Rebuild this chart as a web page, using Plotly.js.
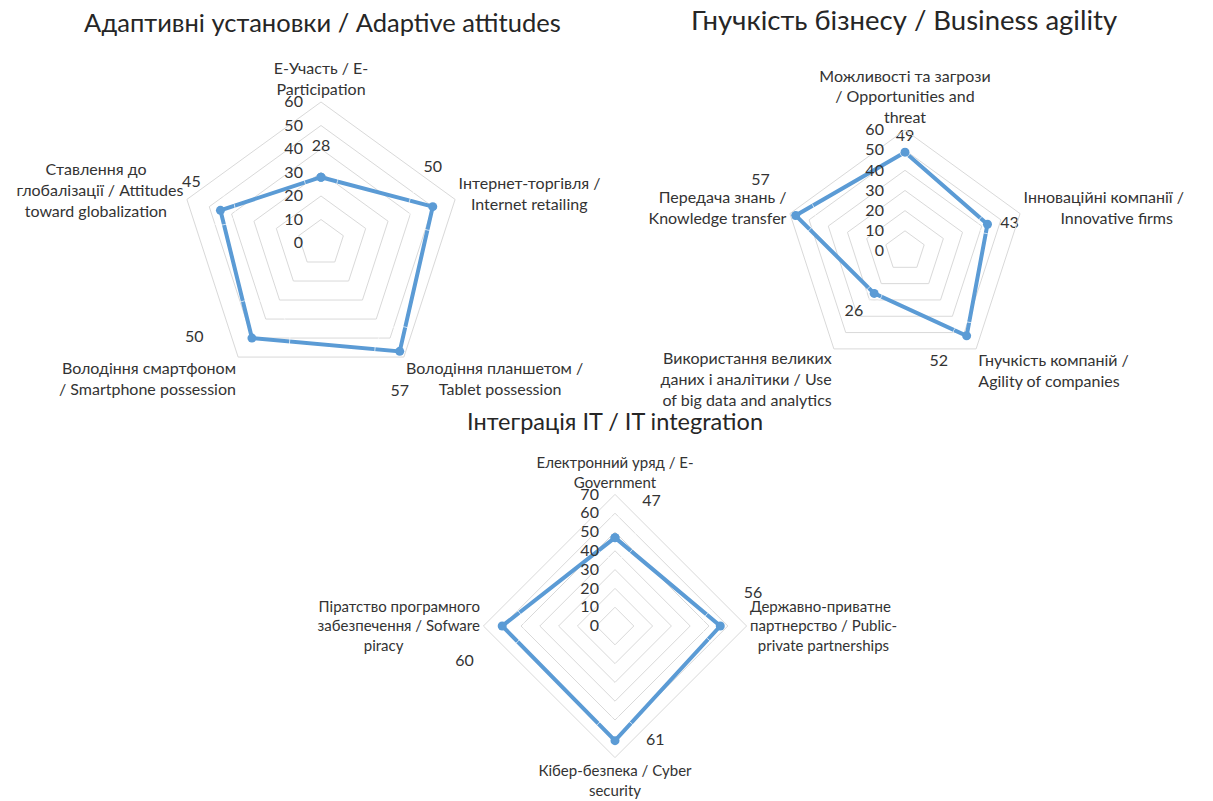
<!DOCTYPE html>
<html>
<head>
<meta charset="utf-8">
<script src="https://cdn.plot.ly/plotly-3.0.1.min.js"></script>
<style>html,body{margin:0;padding:0;background:#fff}#chart{width:1213px;height:801px}</style>
</head>
<body>
<div id="chart"></div>
<script>
// ---- Data ----
var titles = ['Адаптивні установки / Adaptive attitudes', 'Гнучкість бізнесу / Business agility', 'Інтеграція IT / IT integration'];

function sp(n) { return new Array(n + 1).join('\u00a0'); }

var categories1 = ['E-Участь / E-Participation', 'Інтернет-торгівля / Internet retailing', 'Володіння планшетом / Tablet possession', 'Володіння смартфоном / Smartphone possession', 'Ставлення до глобалізації / Attitudes toward globalization'];
var tickLabels1 = ['E-Участь / E-<br>Participation', 'Інтернет-торгівля /<br>' + sp(3) + 'Internet retailing', 'Володіння планшетом /<br>' + sp(8) + 'Tablet possession', 'Володіння смартфоном<br>/ Smartphone possession', 'Ставлення до' + sp(9) + '<br>глобалізації / Attitudes<br>toward globalization' + sp(4)];
var values1 = [28, 50, 57, 50, 45];

var categories2 = ['Можливості та загрози / Opportunities and threat', 'Інноваційні компанії / Innovative firms', 'Гнучкість компаній / Agility of companies', 'Використання великих даних і аналітики / Use of big data and analytics', 'Передача знань / Knowledge transfer'];
var tickLabels2 = ['Можливості та загрози<br>/ Opportunities and<br>threat', 'Інноваційні компанії /<br>' + sp(9) + 'Innovative firms', 'Гнучкість компаній /<br>Agility of companies', 'Використання великих<br>даних і аналітики / Use<br>of big data and analytics', 'Передача знань /<br>Knowledge transfer'];
var values2 = [49, 43, 52, 26, 57];

var categories3 = ['Електронний уряд / E-Government', 'Державно-приватне партнерство / Public-private partnerships', 'Кібер-безпека / Cyber security', 'Піратство програмного забезпечення / Sofware piracy'];
var tickLabels3 = ['Електронний уряд / E-<br>Government', 'Державно-приватне<br>партнерство / Public-<br>' + sp(2) + 'private partnerships', 'Кібер-безпека / Cyber<br>security', 'Піратство програмного<br>забезпечення / Sofware<br>piracy' + sp(20)];
var values3 = [47, 56, 61, 60];

var radialTicks1 = [0, 10, 20, 30, 40, 50, 60];
var radialTicks2 = [0, 10, 20, 30, 40, 50, 60];
var radialTicks3 = [0, 10, 20, 30, 40, 50, 60, 70];

// ---- Style ----
var W = 1213, H = 801;
var FONT = 'Lato, "Open Sans", sans-serif';
var LINE = '#5b9bd5';
var GRID = '#d9d9d9';
var TXT = '#333333';

function closed(a) { return a.concat([a[0]]); }

function seriesTrace(cats, vals, polar) {
  return {
    type: 'scatterpolar', subplot: polar,
    r: closed(vals), theta: closed(cats),
    mode: 'lines+markers',
    line: {color: LINE, width: 4},
    marker: {color: LINE, size: 9},
    hoverinfo: 'skip', showlegend: false
  };
}
function labelTrace(cats, vals, polar, positions, offsets) {
  return {
    type: 'scatterpolar', subplot: polar,
    r: vals, theta: cats,
    mode: 'markers+text',
    text: vals.map(String),
    textposition: positions,
    textfont: {family: FONT, size: 16, color: TXT},
    marker: {size: offsets, color: 'rgba(0,0,0,0)'},
    cliponaxis: false,
    hoverinfo: 'skip', showlegend: false
  };
}

function px2dom(cx, cy, R) {
  return {x: [(cx - R) / W, (cx + R) / W], y: [1 - (cy + R) / H, 1 - (cy - R) / H]};
}

function polarLayout(dom, cats, ticks, rmax, tickText, catFontSize, tlen) {
  return {
    domain: dom,
    gridshape: 'linear',
    bgcolor: 'rgba(0,0,0,0)',
    radialaxis: {
      range: [0, rmax], tickvals: ticks, showline: false,
      ticks: 'outside', ticklen: tlen, tickcolor: 'rgba(0,0,0,0)',
      angle: 90, side: 'counterclockwise', tickangle: 90,
      gridcolor: GRID, gridwidth: 1,
      tickfont: {family: FONT, size: 16, color: TXT}
    },
    angularaxis: {
      type: 'category', categoryarray: cats, rotation: 90, direction: 'clockwise',
      tickmode: 'array', tickvals: cats, ticktext: tickText,
      showgrid: false, showline: true, linecolor: GRID, linewidth: 1, ticks: '',
      tickfont: {family: FONT, size: catFontSize, color: TXT}
    }
  };
}

var traces = [
  seriesTrace(categories1, values1, 'polar'),
  labelTrace(categories1, values1, 'polar', ['top center', 'top center', 'bottom center', 'middle left', 'top left'], [34, 48, 50, 76, 30]),
  seriesTrace(categories2, values2, 'polar2'),
  labelTrace(categories2, values2, 'polar2', ['top center', 'middle right', 'bottom left', 'bottom left', 'top left'], [10, 19, 28, 16, 40]),
  seriesTrace(categories3, values3, 'polar3'),
  labelTrace(categories3, values3, 'polar3', ['top right', 'top right', 'middle right', 'bottom left'], [42, 36, 48, 44])
];

var layout = {
  width: W, height: H,
  margin: {l: 0, r: 0, t: 0, b: 0},
  paper_bgcolor: '#ffffff',
  showlegend: false,
  polar: polarLayout(px2dom(321, 243, 141), categories1, radialTicks1, 60, tickLabels1, 16, 12),
  polar2: polarLayout(px2dom(905, 251, 121), categories2, radialTicks2, 60, tickLabels2, 16, 15),
  polar3: polarLayout(px2dom(615, 626, 131.6), categories3, radialTicks3, 70, tickLabels3, 15, 10),
  annotations: [
    {text: titles[0], x: 322 / W, y: 1 - 22 / H, xref: 'paper', yref: 'paper', showarrow: false, xanchor: 'center', yanchor: 'middle', font: {family: FONT, size: 25.5, color: '#262626'}},
    {text: titles[1], x: 904 / W, y: 1 - 20 / H, xref: 'paper', yref: 'paper', showarrow: false, xanchor: 'center', yanchor: 'middle', font: {family: FONT, size: 27.5, color: '#262626'}},
    {text: titles[2], x: 615 / W, y: 1 - 421 / H, xref: 'paper', yref: 'paper', showarrow: false, xanchor: 'center', yanchor: 'middle', font: {family: FONT, size: 23.5, color: '#262626'}}
  ]
};

Plotly.newPlot('chart', traces, layout, {displayModeBar: false, staticPlot: true});
</script>
</body>
</html>
